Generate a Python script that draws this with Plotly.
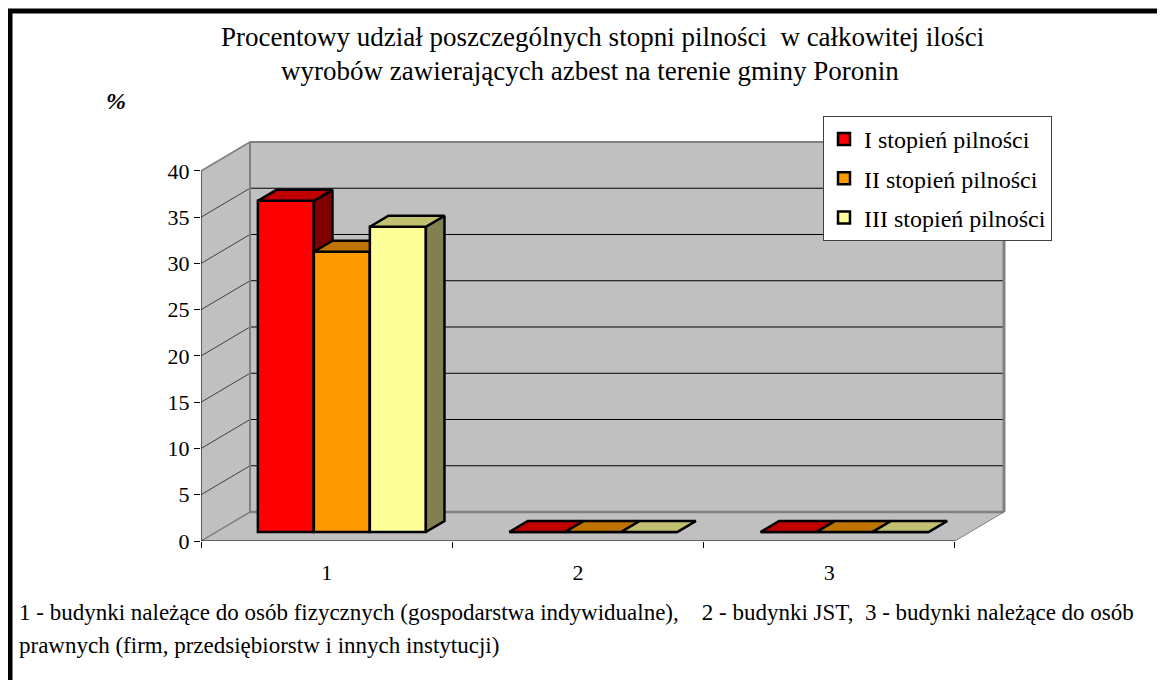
import plotly.graph_objects as go

# ---------------- data ----------------
categories = [1, 2, 3]
x_labels = ["1", "2", "3"]
series_names = ["I stopień pilności", "II stopień pilności", "III stopień pilności"]
values_I = [35.8, 0.0, 0.0]
values_II = [30.3, 0.0, 0.0]
values_III = [33.0, 0.0, 0.0]
y_ticks = [0, 5, 10, 15, 20, 25, 30, 35, 40]

title_line1 = "Procentowy udział poszczególnych stopni pilności\u00a0\u00a0w całkowitej ilości"
title_line2 = "wyrobów zawierających azbest na terenie gminy Poronin"
note_line1 = ("1 - budynki należące do osób fizycznych (gospodarstwa indywidualne),\u00a0\u00a0\u00a0\u00a0"
              "2 - budynki JST,\u00a0\u00a03 - budynki należące do osób")
note_line2 = "prawnych (firm, przedsiębiorstw i innych instytucji)"

# ---------------- styles / geometry ----------------
front_colors = ["#FF0000", "#FF9900", "#FFFF99"]
top_colors = ["#C00000", "#BF7300", "#C0C070"]
side_colors = ["#800000", "#805000", "#808050"]
WALL = "#C0C0C0"
EDGE = "#808080"
FONT = "Liberation Serif, Times New Roman, DejaVu Serif, serif"

OFF = 8  # page body margin of the browser
W, H = 1165 - OFF, 680 - OFF
L, R, T, B = 201 - OFF, 155, 140 - OFF, 139
PW = W - L - R
PH = H - T - B
PX_PER_X = 251.33
X0 = 0.5
X1 = X0 + PW / PX_PER_X
Y_TOP = 43.35
PX_PER_Y = PH / Y_TOP

DX = 49 / PX_PER_X          # full depth of the box (x units)
DY = 29 / PX_PER_Y          # full depth of the box (y units)
PLANE = 0.31                # bar front plane position within depth
BAR_DEPTH = 0.38            # bar depth as fraction of box depth
BAR_W = 56 / PX_PER_X
XLAST = X0 + len(categories)


def px_x(p):
    return (p - OFF - L) / PW


def px_y(p):
    return (H - B - (p - OFF)) / PH


fig = go.Figure()

series_values = [values_I, values_II, values_III]
sx = PLANE * DX
sy = PLANE * DY
bdx = BAR_DEPTH * DX
bdy = BAR_DEPTH * DY

for i, (name, vals) in enumerate(zip(series_names, series_values)):
    ax = str(i + 2)
    offset = -1.5 * BAR_W + i * BAR_W
    xs = [c + sx for c in categories]
    fig.add_trace(go.Bar(
        x=xs, y=vals, base=[sy] * len(vals), width=BAR_W, offset=offset,
        name=name, legendgroup=name,
        marker=dict(color=front_colors[i], line=dict(color="black", width=2.5)),
        xaxis="x" + ax, yaxis="y" + ax, hoverinfo="skip",
    ))
    # top faces and side faces computed from the values
    tx, ty, sxs, sys_ = [], [], [], []
    for c, v in zip(xs, vals):
        xl = c + offset
        xr = xl + BAR_W
        top = sy + v
        tx += [xl, xr, xr + bdx, xl + bdx, xl, None]
        ty += [top, top, top + bdy, top + bdy, top, None]
        sxs += [xr, xr, xr + bdx, xr + bdx, xr, None]
        sys_ += [sy, top, top + bdy, sy + bdy, sy, None]
    fig.add_trace(go.Scatter(
        x=sxs, y=sys_, mode="lines", fill="toself", fillcolor=side_colors[i],
        line=dict(color="black", width=2.5), showlegend=False, hoverinfo="skip",
        legendgroup=name, xaxis="x" + ax, yaxis="y" + ax,
    ))
    fig.add_trace(go.Scatter(
        x=tx, y=ty, mode="lines", fill="toself", fillcolor=top_colors[i],
        line=dict(color="black", width=2.5), showlegend=False, hoverinfo="skip",
        legendgroup=name, xaxis="x" + ax, yaxis="y" + ax,
    ))

ymax = y_ticks[-1]
shapes = []
# side wall
shapes.append(dict(type="path", xref="x", yref="y", layer="below",
                   path=f"M{X0},0 L{X0},{ymax} L{X0+DX},{ymax+DY} L{X0+DX},{DY} Z",
                   fillcolor=WALL, line=dict(color=WALL, width=0)))
# back wall
shapes.append(dict(type="rect", xref="x", yref="y", layer="below",
                   x0=X0 + DX, x1=XLAST + DX, y0=DY, y1=ymax + DY,
                   fillcolor=WALL, line=dict(color=WALL, width=0)))
# floor
shapes.append(dict(type="path", xref="x", yref="y", layer="below",
                   path=f"M{X0},0 L{XLAST},0 L{XLAST+DX},{DY} L{X0+DX},{DY} Z",
                   fillcolor=WALL, line=dict(color=WALL, width=0)))
# gridlines
for t in y_ticks[1:-1]:
    shapes.append(dict(type="line", xref="x", yref="y", layer="below",
                       x0=X0 + DX, x1=XLAST + DX, y0=t + DY, y1=t + DY,
                       line=dict(color="black", width=1)))
    shapes.append(dict(type="line", xref="x", yref="y", layer="below",
                       x0=X0, x1=X0 + DX, y0=t, y1=t + DY,
                       line=dict(color="#404040", width=1)))
# edges
edge_lines = [
    (X0 + DX, DY, X0 + DX, ymax + DY, 2),
    (X0 + DX, ymax + DY, XLAST + DX, ymax + DY, 2),
    (XLAST + DX, DY, XLAST + DX, ymax + DY, 3),
    (X0 + DX, DY, XLAST + DX, DY, 2.5),
    (X0, ymax, X0 + DX, ymax + DY, 1.5),
    (X0, 0, X0 + DX, DY, 1.5),
    (XLAST, 0, XLAST + DX, DY, 1),
]
for x0, y0, x1, y1, w in edge_lines:
    shapes.append(dict(type="line", xref="x", yref="y", layer="below",
                       x0=x0, y0=y0, x1=x1, y1=y1, line=dict(color=EDGE, width=w)))
# axis lines
shapes.append(dict(type="line", xref="x", yref="y", layer="below",
                   x0=X0, x1=X0, y0=0, y1=ymax, line=dict(color="black", width=1)))
shapes.append(dict(type="line", xref="x", yref="y", layer="below",
                   x0=X0, x1=XLAST, y0=0, y1=0, line=dict(color="black", width=1)))
# outer frame
shapes.append(dict(type="rect", xref="paper", yref="paper",
                   x0=px_x(10), x1=px_x(1200), y0=px_y(720), y1=px_y(11),
                   line=dict(color="black", width=5), fillcolor="rgba(0,0,0,0)"))

annotations = [
    dict(text=title_line1, x=px_x(602), y=px_y(37), xref="paper", yref="paper",
         showarrow=False, xanchor="center", yanchor="middle",
         font=dict(family=FONT, size=27, color="black")),
    dict(text=title_line2, x=px_x(590), y=px_y(71), xref="paper", yref="paper",
         showarrow=False, xanchor="center", yanchor="middle",
         font=dict(family=FONT, size=27, color="black")),
    dict(text="<b><i>%</i></b>", x=px_x(116), y=px_y(101), xref="paper", yref="paper",
         showarrow=False, xanchor="center", yanchor="middle",
         font=dict(family=FONT, size=24, color="black")),
    dict(text=note_line1, x=px_x(17), y=px_y(612), xref="paper", yref="paper",
         showarrow=False, xanchor="left", yanchor="middle",
         font=dict(family=FONT, size=23, color="black")),
    dict(text=note_line2, x=px_x(17), y=px_y(645), xref="paper", yref="paper",
         showarrow=False, xanchor="left", yanchor="middle",
         font=dict(family=FONT, size=23, color="black")),
]

layout = dict(
    width=W, height=H,
    margin=dict(l=L, r=R, t=T, b=B, pad=0),
    paper_bgcolor="white", plot_bgcolor="white",
    showlegend=True,
    font=dict(family=FONT, color="black"),
    legend=dict(x=px_x(1052), xanchor="right", y=px_y(116), yanchor="top",
                bgcolor="white", bordercolor="#404040", borderwidth=1,
                font=dict(family=FONT, size=24, color="black"),
                tracegroupgap=5, traceorder="grouped"),
    xaxis=dict(range=[X0, X1], tickvals=categories, ticktext=x_labels,
               ticks="outside", ticklen=12, tickcolor="rgba(0,0,0,0)",
               showgrid=False, zeroline=False, showline=False,
               tickfont=dict(family=FONT, size=22, color="black"),
               minor=dict(tickvals=[X0 + k for k in range(len(categories) + 1)],
                          ticks="outside", ticklen=6, tickcolor="black", showgrid=False),
               fixedrange=True),
    yaxis=dict(range=[0, Y_TOP], tickvals=y_ticks, ticks="outside", ticklen=6,
               tickcolor="black", showgrid=False, zeroline=False, showline=False,
               tickfont=dict(family=FONT, size=22, color="black"), fixedrange=True),
    shapes=shapes, annotations=annotations,
)
for k in range(2, 5):
    layout[f"xaxis{k}"] = dict(overlaying="x", matches="x", anchor=f"y{k}", visible=False,
                               range=[X0, X1], fixedrange=True)
    layout[f"yaxis{k}"] = dict(overlaying="y", matches="y", anchor=f"x{k}", visible=False,
                               range=[0, Y_TOP], fixedrange=True)
fig.update_layout(**layout)

fig.write_html("out.html")
